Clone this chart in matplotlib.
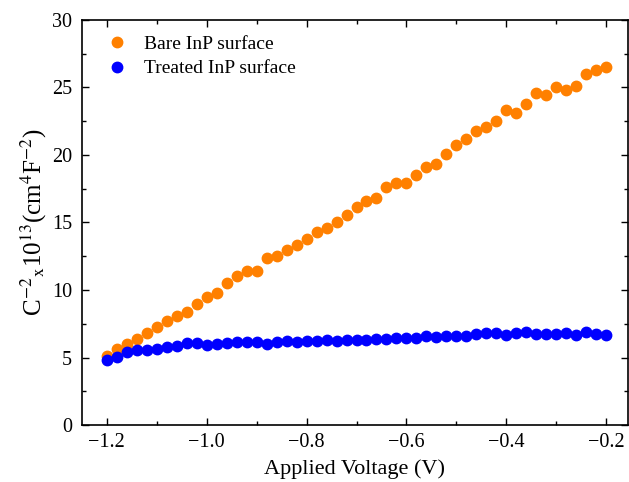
import matplotlib
matplotlib.use("Agg")
import matplotlib.pyplot as plt
import numpy as np
from matplotlib.ticker import MultipleLocator

plt.rcParams['font.family'] = ['Liberation Serif', 'DejaVu Serif']
plt.rcParams['mathtext.fontset'] = 'stix'

voltage = np.round(np.arange(-1.20, -0.199, 0.02), 2)

bare = [5.1, 5.6, 6.0, 6.4, 6.8, 7.26, 7.7, 8.07, 8.35, 9.0,
        9.5, 9.75, 10.5, 11.0, 11.4, 11.4, 12.35, 12.5, 12.96, 13.36,
        13.8, 14.3, 14.56, 15.0, 15.56, 16.17, 16.6, 16.8, 17.6, 17.9,
        17.9, 18.5, 19.1, 19.3, 20.07, 20.74, 21.2, 21.8, 22.05, 22.5,
        23.3, 23.1, 23.8, 24.6, 24.4, 25.0, 24.8, 25.1, 26.0, 26.3,
        26.5]

treated = [4.8, 5.06, 5.38, 5.55, 5.55, 5.67, 5.75, 5.85, 6.05, 6.05,
           5.93, 5.97, 6.05, 6.12, 6.12, 6.12, 6.0, 6.12, 6.22, 6.12,
           6.22, 6.22, 6.3, 6.22, 6.3, 6.3, 6.3, 6.35, 6.35, 6.42,
           6.47, 6.42, 6.6, 6.5, 6.6, 6.6, 6.6, 6.74, 6.79, 6.84,
           6.67, 6.79, 6.89, 6.74, 6.74, 6.74, 6.79, 6.67, 6.91, 6.74,
           6.67]

fig = plt.figure(figsize=(6.29, 4.82), dpi=100)
ax = fig.add_axes([0.130, 0.118, 0.868, 0.841])

ax.plot(voltage, bare, 'o', color='#FF8000', markersize=7.5, label='Bare InP surface')
ax.plot(voltage, treated, 'o', color='#0000FF', markersize=7.5, label='Treated InP surface')

ax.set_xlim(-1.25, -0.157)
ax.set_ylim(0, 30)
ax.xaxis.set_major_locator(MultipleLocator(0.2))
ax.xaxis.set_minor_locator(MultipleLocator(0.1))
ax.yaxis.set_major_locator(MultipleLocator(5))
ax.yaxis.set_minor_locator(MultipleLocator(2.5))
ax.tick_params(which='both', direction='in', top=True, right=True, labelsize=14.5, width=1)
ax.tick_params(which='major', length=5)
ax.tick_params(which='minor', length=3)
ax.tick_params(axis='y', pad=7)
ax.tick_params(axis='x', pad=6)
for s in ax.spines.values():
    s.set_linewidth(1.2)

ax.set_xlabel('Applied Voltage (V)', fontsize=16, labelpad=5)
ax.set_ylabel(r'C$^{-2}$$_{\mathrm{x}}$10$^{13}$(cm$^{4}$F$^{-2}$)', fontsize=18, labelpad=2)

ax.legend(loc='upper left', frameon=False, fontsize=14, handletextpad=0.4,
          borderaxespad=0.4, labelspacing=0.35)

fig.savefig('out.png', dpi=100)
